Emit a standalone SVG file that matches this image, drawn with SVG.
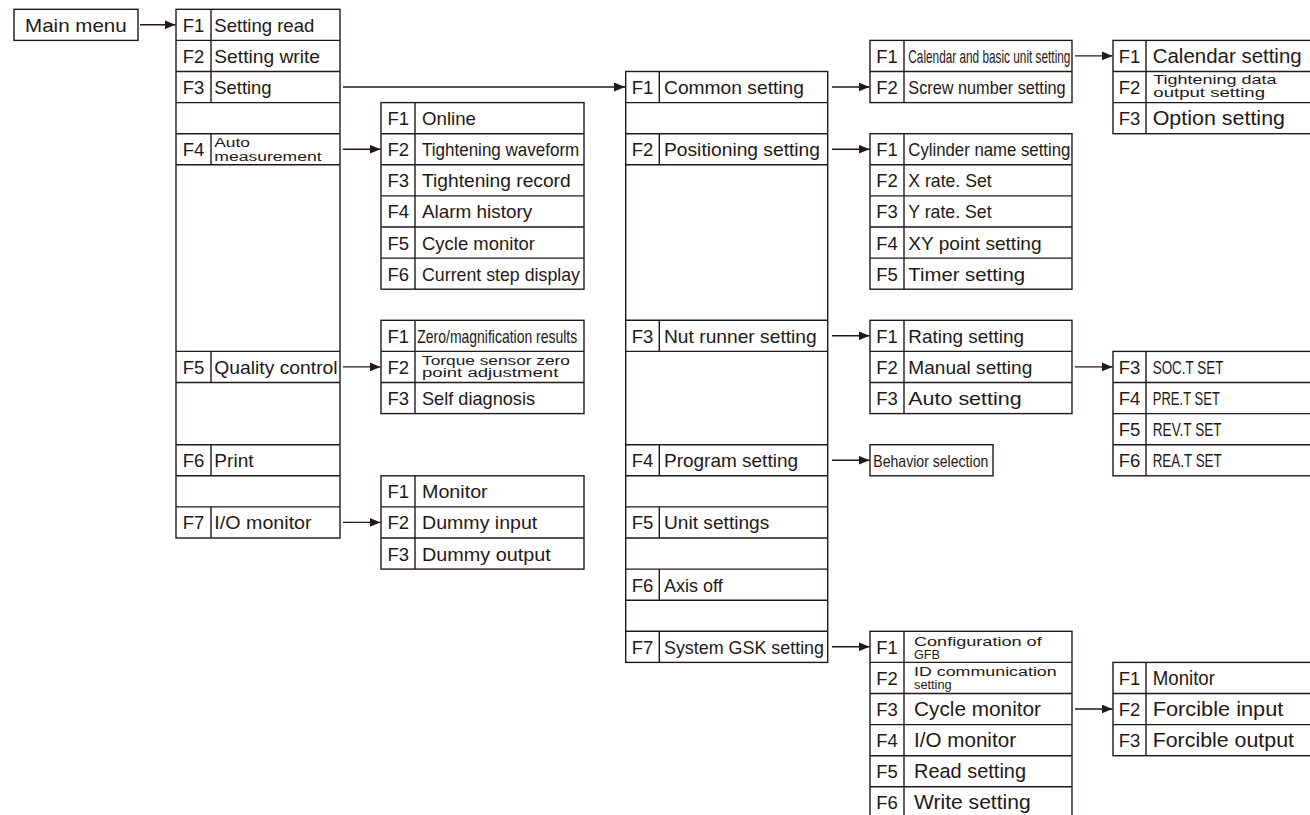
<svg xmlns="http://www.w3.org/2000/svg" width="1310" height="815" viewBox="0 0 1310 815">
<style>
rect.b{fill:#fff;stroke:#231815;stroke-width:1.4}
line.d{stroke:#231815;stroke-width:1.4}
text{font-family:"Liberation Sans",Arial,sans-serif;fill:#231815}
.f{font-size:18.5px;text-anchor:middle}
.t{font-size:18.5px}
.L{font-size:20.5px}
.s{font-size:12px}
.c{font-size:18px}
.con line{stroke:#231815;stroke-width:1.4;marker-end:url(#ah)}
</style>
<defs>
<marker id="ah" markerWidth="11" markerHeight="9" refX="11" refY="4.5" orient="auto" markerUnits="userSpaceOnUse"><path d="M0,0 L11,4.5 L0,9 z" fill="#231815"/></marker>
</defs>
<rect width="1310" height="815" fill="#fff"/>

<g id="main-menu">
<rect class="b" x="14" y="9.3" width="124" height="31.1"/>
<text class="t" x="25" y="31.8" textLength="101.7" lengthAdjust="spacingAndGlyphs">Main menu</text>
</g>

<g id="col1">
<rect class="b" x="176" y="9.3" width="164" height="528.7"/>
<line class="d" x1="176" y1="40.4" x2="340" y2="40.4"/>
<line class="d" x1="176" y1="71.5" x2="340" y2="71.5"/>
<line class="d" x1="176" y1="102.6" x2="340" y2="102.6"/>
<line class="d" x1="176" y1="133.7" x2="340" y2="133.7"/>
<line class="d" x1="176" y1="164.8" x2="340" y2="164.8"/>
<line class="d" x1="176" y1="351.4" x2="340" y2="351.4"/>
<line class="d" x1="176" y1="382.5" x2="340" y2="382.5"/>
<line class="d" x1="176" y1="444.7" x2="340" y2="444.7"/>
<line class="d" x1="176" y1="475.8" x2="340" y2="475.8"/>
<line class="d" x1="176" y1="506.9" x2="340" y2="506.9"/>
<line class="d" x1="211" y1="9.3" x2="211" y2="102.6"/>
<line class="d" x1="211" y1="133.7" x2="211" y2="164.8"/>
<line class="d" x1="211" y1="351.4" x2="211" y2="382.5"/>
<line class="d" x1="211" y1="444.7" x2="211" y2="475.8"/>
<line class="d" x1="211" y1="506.9" x2="211" y2="538"/>
<text class="f" x="193.5" y="31.8">F1</text>
<text class="t" x="214.3" y="31.8" textLength="100" lengthAdjust="spacingAndGlyphs">Setting read</text>
<text class="f" x="193.5" y="62.9">F2</text>
<text class="t" x="214.3" y="62.9" textLength="105.7" lengthAdjust="spacingAndGlyphs">Setting write</text>
<text class="f" x="193.5" y="94">F3</text>
<text class="t" x="214.3" y="94" textLength="57.3" lengthAdjust="spacingAndGlyphs">Setting</text>
<text class="f" x="193.5" y="156.2">F4</text>
<text class="s" x="214.3" y="147.3" textLength="35.7" lengthAdjust="spacingAndGlyphs">Auto</text>
<text class="s" x="214.3" y="160.7" textLength="107.3" lengthAdjust="spacingAndGlyphs">measurement</text>
<text class="f" x="193.5" y="373.9">F5</text>
<text class="t" x="214.3" y="373.9" textLength="123.3" lengthAdjust="spacingAndGlyphs">Quality control</text>
<text class="f" x="193.5" y="467.2">F6</text>
<text class="t" x="214.3" y="467.2" textLength="39.3" lengthAdjust="spacingAndGlyphs">Print</text>
<text class="f" x="193.5" y="529.4">F7</text>
<text class="t" x="214.3" y="529.4" textLength="97.3" lengthAdjust="spacingAndGlyphs">I/O monitor</text>
</g>

<g id="auto-measurement-menu">
<rect class="b" x="381" y="102.6" width="203" height="186.6"/>
<line class="d" x1="381" y1="133.7" x2="584" y2="133.7"/>
<line class="d" x1="381" y1="164.8" x2="584" y2="164.8"/>
<line class="d" x1="381" y1="195.9" x2="584" y2="195.9"/>
<line class="d" x1="381" y1="227" x2="584" y2="227"/>
<line class="d" x1="381" y1="258.1" x2="584" y2="258.1"/>
<line class="d" x1="415" y1="102.6" x2="415" y2="289.2"/>
<text class="f" x="398.3" y="125.1">F1</text>
<text class="t" x="422" y="125.1" textLength="54" lengthAdjust="spacingAndGlyphs">Online</text>
<text class="f" x="398.3" y="156.2">F2</text>
<text class="t" x="422" y="156.2" textLength="157.3" lengthAdjust="spacingAndGlyphs">Tightening waveform</text>
<text class="f" x="398.3" y="187.3">F3</text>
<text class="t" x="422" y="187.3" textLength="148.7" lengthAdjust="spacingAndGlyphs">Tightening record</text>
<text class="f" x="398.3" y="218.4">F4</text>
<text class="t" x="422" y="218.4" textLength="110.3" lengthAdjust="spacingAndGlyphs">Alarm history</text>
<text class="f" x="398.3" y="249.5">F5</text>
<text class="t" x="422" y="249.5" textLength="113" lengthAdjust="spacingAndGlyphs">Cycle monitor</text>
<text class="f" x="398.3" y="280.6">F6</text>
<text class="t" x="422" y="280.6" textLength="158" lengthAdjust="spacingAndGlyphs">Current step display</text>
</g>

<g id="quality-control-menu">
<rect class="b" x="381" y="320.3" width="203" height="93.3"/>
<line class="d" x1="381" y1="351.4" x2="584" y2="351.4"/>
<line class="d" x1="381" y1="382.5" x2="584" y2="382.5"/>
<line class="d" x1="415" y1="320.3" x2="415" y2="413.6"/>
<text class="f" x="398.3" y="342.8">F1</text>
<text class="c" transform="translate(417.3,342.8) scale(0.776,1)" x="0" y="0">Zero/magnification results</text>
<text class="f" x="398.3" y="373.9">F2</text>
<text class="s" x="422" y="364.7" textLength="148" lengthAdjust="spacingAndGlyphs">Torque sensor zero</text>
<text class="s" x="422" y="377.4" textLength="136.3" lengthAdjust="spacingAndGlyphs">point adjustment</text>
<text class="f" x="398.3" y="405">F3</text>
<text class="t" x="422" y="405" textLength="113" lengthAdjust="spacingAndGlyphs">Self diagnosis</text>
</g>

<g id="io-monitor-menu">
<rect class="b" x="381" y="475.8" width="203" height="93.3"/>
<line class="d" x1="381" y1="506.9" x2="584" y2="506.9"/>
<line class="d" x1="381" y1="538" x2="584" y2="538"/>
<line class="d" x1="415" y1="475.8" x2="415" y2="569.1"/>
<text class="f" x="398.3" y="498.3">F1</text>
<text class="t" x="422" y="498.3" textLength="65.7" lengthAdjust="spacingAndGlyphs">Monitor</text>
<text class="f" x="398.3" y="529.4">F2</text>
<text class="t" x="422" y="529.4" textLength="115.3" lengthAdjust="spacingAndGlyphs">Dummy input</text>
<text class="f" x="398.3" y="560.5">F3</text>
<text class="t" x="422" y="560.5" textLength="128.7" lengthAdjust="spacingAndGlyphs">Dummy output</text>
</g>

<g id="setting-menu">
<rect class="b" x="625.7" y="71.5" width="202" height="590.9"/>
<line class="d" x1="625.7" y1="102.6" x2="827.7" y2="102.6"/>
<line class="d" x1="625.7" y1="133.7" x2="827.7" y2="133.7"/>
<line class="d" x1="625.7" y1="164.8" x2="827.7" y2="164.8"/>
<line class="d" x1="625.7" y1="320.3" x2="827.7" y2="320.3"/>
<line class="d" x1="625.7" y1="351.4" x2="827.7" y2="351.4"/>
<line class="d" x1="625.7" y1="444.7" x2="827.7" y2="444.7"/>
<line class="d" x1="625.7" y1="475.8" x2="827.7" y2="475.8"/>
<line class="d" x1="625.7" y1="506.9" x2="827.7" y2="506.9"/>
<line class="d" x1="625.7" y1="538" x2="827.7" y2="538"/>
<line class="d" x1="625.7" y1="569.1" x2="827.7" y2="569.1"/>
<line class="d" x1="625.7" y1="600.2" x2="827.7" y2="600.2"/>
<line class="d" x1="625.7" y1="631.3" x2="827.7" y2="631.3"/>
<line class="d" x1="659.3" y1="71.5" x2="659.3" y2="102.6"/>
<line class="d" x1="659.3" y1="133.7" x2="659.3" y2="164.8"/>
<line class="d" x1="659.3" y1="320.3" x2="659.3" y2="351.4"/>
<line class="d" x1="659.3" y1="444.7" x2="659.3" y2="475.8"/>
<line class="d" x1="659.3" y1="506.9" x2="659.3" y2="538"/>
<line class="d" x1="659.3" y1="569.1" x2="659.3" y2="600.2"/>
<line class="d" x1="659.3" y1="631.3" x2="659.3" y2="662.4"/>
<text class="f" x="642.5" y="94">F1</text>
<text class="t" x="664" y="94" textLength="140" lengthAdjust="spacingAndGlyphs">Common setting</text>
<text class="f" x="642.5" y="156.2">F2</text>
<text class="t" x="664" y="156.2" textLength="156" lengthAdjust="spacingAndGlyphs">Positioning setting</text>
<text class="f" x="642.5" y="342.8">F3</text>
<text class="t" x="664" y="342.8" textLength="152.7" lengthAdjust="spacingAndGlyphs">Nut runner setting</text>
<text class="f" x="642.5" y="467.2">F4</text>
<text class="t" x="664" y="467.2" textLength="134" lengthAdjust="spacingAndGlyphs">Program setting</text>
<text class="f" x="642.5" y="529.4">F5</text>
<text class="t" x="664" y="529.4" textLength="105.3" lengthAdjust="spacingAndGlyphs">Unit settings</text>
<text class="f" x="642.5" y="591.6">F6</text>
<text class="t" x="664" y="591.6" textLength="58.7" lengthAdjust="spacingAndGlyphs">Axis off</text>
<text class="f" x="642.5" y="653.8">F7</text>
<text class="t" x="664" y="653.8" textLength="160" lengthAdjust="spacingAndGlyphs">System GSK setting</text>
</g>

<g id="common-setting-menu">
<rect class="b" x="870" y="40.4" width="202" height="62.2"/>
<line class="d" x1="870" y1="71.5" x2="1072" y2="71.5"/>
<line class="d" x1="904" y1="40.4" x2="904" y2="102.6"/>
<text class="f" x="887" y="62.9">F1</text>
<text class="c" transform="translate(908.3,62.9) scale(0.656,1)" x="0" y="0">Calendar and basic unit setting</text>
<text class="f" x="887" y="94">F2</text>
<text class="t" x="908.3" y="94" textLength="157.3" lengthAdjust="spacingAndGlyphs">Screw number setting</text>
</g>

<g id="calendar-menu">
<rect class="b" x="1113" y="40.4" width="210" height="93.3"/>
<line class="d" x1="1113" y1="71.5" x2="1323" y2="71.5"/>
<line class="d" x1="1113" y1="102.6" x2="1323" y2="102.6"/>
<line class="d" x1="1146" y1="40.4" x2="1146" y2="133.7"/>
<text class="f" x="1129.5" y="62.9">F1</text>
<text class="L" x="1152.7" y="62.9" textLength="149" lengthAdjust="spacingAndGlyphs">Calendar setting</text>
<text class="f" x="1129.5" y="94">F2</text>
<text class="s" x="1153.3" y="83.5" textLength="123.3" lengthAdjust="spacingAndGlyphs">Tightening data</text>
<text class="s" x="1153.3" y="96.5" textLength="111.7" lengthAdjust="spacingAndGlyphs">output setting</text>
<text class="f" x="1129.5" y="125.1">F3</text>
<text class="L" x="1152.7" y="125.1" textLength="132.3" lengthAdjust="spacingAndGlyphs">Option setting</text>
</g>

<g id="positioning-menu">
<rect class="b" x="870" y="133.7" width="202" height="155.5"/>
<line class="d" x1="870" y1="164.8" x2="1072" y2="164.8"/>
<line class="d" x1="870" y1="195.9" x2="1072" y2="195.9"/>
<line class="d" x1="870" y1="227" x2="1072" y2="227"/>
<line class="d" x1="870" y1="258.1" x2="1072" y2="258.1"/>
<line class="d" x1="904" y1="133.7" x2="904" y2="289.2"/>
<text class="f" x="887" y="156.2">F1</text>
<text class="t" x="908.3" y="156.2" textLength="162" lengthAdjust="spacingAndGlyphs">Cylinder name setting</text>
<text class="f" x="887" y="187.3">F2</text>
<text class="t" x="908.3" y="187.3" textLength="83.3" lengthAdjust="spacingAndGlyphs">X rate. Set</text>
<text class="f" x="887" y="218.4">F3</text>
<text class="t" x="908.3" y="218.4" textLength="83.3" lengthAdjust="spacingAndGlyphs">Y rate. Set</text>
<text class="f" x="887" y="249.5">F4</text>
<text class="t" x="908.3" y="249.5" textLength="133.3" lengthAdjust="spacingAndGlyphs">XY point setting</text>
<text class="f" x="887" y="280.6">F5</text>
<text class="t" x="908.3" y="280.6" textLength="116.7" lengthAdjust="spacingAndGlyphs">Timer setting</text>
</g>

<g id="nut-runner-menu">
<rect class="b" x="870" y="320.3" width="202" height="93.3"/>
<line class="d" x1="870" y1="351.4" x2="1072" y2="351.4"/>
<line class="d" x1="870" y1="382.5" x2="1072" y2="382.5"/>
<line class="d" x1="904" y1="320.3" x2="904" y2="413.6"/>
<text class="f" x="887" y="342.8">F1</text>
<text class="t" x="908.3" y="342.8" textLength="115.7" lengthAdjust="spacingAndGlyphs">Rating setting</text>
<text class="f" x="887" y="373.9">F2</text>
<text class="t" x="908.3" y="373.9" textLength="124" lengthAdjust="spacingAndGlyphs">Manual setting</text>
<text class="f" x="887" y="405">F3</text>
<text class="t" x="908.3" y="405" textLength="113.3" lengthAdjust="spacingAndGlyphs">Auto setting</text>
</g>

<g id="manual-setting-menu">
<rect class="b" x="1113" y="351.4" width="210" height="124.4"/>
<line class="d" x1="1113" y1="382.5" x2="1323" y2="382.5"/>
<line class="d" x1="1113" y1="413.6" x2="1323" y2="413.6"/>
<line class="d" x1="1113" y1="444.7" x2="1323" y2="444.7"/>
<line class="d" x1="1146" y1="351.4" x2="1146" y2="475.8"/>
<text class="f" x="1129.5" y="373.9">F3</text>
<text class="t" x="1152.7" y="373.9" textLength="70.7" lengthAdjust="spacingAndGlyphs">SOC.T SET</text>
<text class="f" x="1129.5" y="405">F4</text>
<text class="t" x="1152.7" y="405" textLength="67.3" lengthAdjust="spacingAndGlyphs">PRE.T SET</text>
<text class="f" x="1129.5" y="436.1">F5</text>
<text class="t" x="1152.7" y="436.1" textLength="69" lengthAdjust="spacingAndGlyphs">REV.T SET</text>
<text class="f" x="1129.5" y="467.2">F6</text>
<text class="t" x="1152.7" y="467.2" textLength="69" lengthAdjust="spacingAndGlyphs">REA.T SET</text>
</g>

<g id="behavior-selection">
<rect class="b" x="870" y="444.7" width="123" height="31.1"/>
<text class="c" x="873.3" y="466.5" style="font-size:16.5px" textLength="115" lengthAdjust="spacingAndGlyphs">Behavior selection</text>
</g>

<g id="system-gsk-menu">
<rect class="b" x="870" y="631.3" width="202" height="186.6"/>
<line class="d" x1="870" y1="662.4" x2="1072" y2="662.4"/>
<line class="d" x1="870" y1="693.5" x2="1072" y2="693.5"/>
<line class="d" x1="870" y1="724.6" x2="1072" y2="724.6"/>
<line class="d" x1="870" y1="755.7" x2="1072" y2="755.7"/>
<line class="d" x1="870" y1="786.8" x2="1072" y2="786.8"/>
<line class="d" x1="904" y1="631.3" x2="904" y2="817.9"/>
<text class="f" x="887" y="653.8">F1</text>
<text class="s" x="914" y="646.2" textLength="127.7" lengthAdjust="spacingAndGlyphs">Configuration of</text>
<text class="s" x="914" y="659.2" textLength="26" lengthAdjust="spacingAndGlyphs">GFB</text>
<text class="f" x="887" y="684.9">F2</text>
<text class="s" x="914" y="675.5" textLength="142.7" lengthAdjust="spacingAndGlyphs">ID communication</text>
<text class="s" x="914" y="688.5" textLength="37.7" lengthAdjust="spacingAndGlyphs">setting</text>
<text class="f" x="887" y="716">F3</text>
<text class="L" x="914" y="716" textLength="127" lengthAdjust="spacingAndGlyphs">Cycle monitor</text>
<text class="f" x="887" y="747.1">F4</text>
<text class="L" x="914" y="747.1" textLength="102" lengthAdjust="spacingAndGlyphs">I/O monitor</text>
<text class="f" x="887" y="778.2">F5</text>
<text class="L" x="914" y="778.2" textLength="112" lengthAdjust="spacingAndGlyphs">Read setting</text>
<text class="f" x="887" y="809.3">F6</text>
<text class="L" x="914" y="809.3" textLength="116.7" lengthAdjust="spacingAndGlyphs">Write setting</text>
</g>

<g id="gsk-cycle-monitor-menu">
<rect class="b" x="1113" y="662.4" width="210" height="93.3"/>
<line class="d" x1="1113" y1="693.5" x2="1323" y2="693.5"/>
<line class="d" x1="1113" y1="724.6" x2="1323" y2="724.6"/>
<line class="d" x1="1146" y1="662.4" x2="1146" y2="755.7"/>
<text class="f" x="1129.5" y="684.9">F1</text>
<text class="L" x="1152.7" y="684.9" textLength="62.3" lengthAdjust="spacingAndGlyphs">Monitor</text>
<text class="f" x="1129.5" y="716">F2</text>
<text class="L" x="1152.7" y="716" textLength="130.7" lengthAdjust="spacingAndGlyphs">Forcible input</text>
<text class="f" x="1129.5" y="747.1">F3</text>
<text class="L" x="1152.7" y="747.1" textLength="141.3" lengthAdjust="spacingAndGlyphs">Forcible output</text>
</g>

<g id="connectors" class="con">
<line x1="140" y1="24.8" x2="175.5" y2="24.8"/>
<line x1="343" y1="87" x2="625" y2="87"/>
<line x1="343" y1="149.2" x2="380.5" y2="149.2"/>
<line x1="343" y1="366.9" x2="380.5" y2="366.9"/>
<line x1="343" y1="522.4" x2="380.5" y2="522.4"/>
<line x1="832" y1="87" x2="869.5" y2="87"/>
<line x1="832" y1="149.2" x2="869.5" y2="149.2"/>
<line x1="832" y1="335.8" x2="869.5" y2="335.8"/>
<line x1="832" y1="460.2" x2="869.5" y2="460.2"/>
<line x1="832" y1="646.8" x2="869.5" y2="646.8"/>
<line x1="1075" y1="55.9" x2="1112.5" y2="55.9"/>
<line x1="1075" y1="366.9" x2="1112.5" y2="366.9"/>
<line x1="1075" y1="709" x2="1112.5" y2="709"/>
</g>
</svg>
